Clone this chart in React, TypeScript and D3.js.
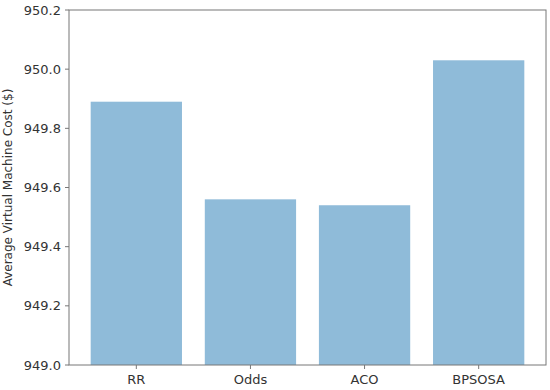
import React from "react";
import * as d3 from "d3";

const categories = ["RR", "Odds", "ACO", "BPSOSA"];
const costValues = [949.89, 949.56, 949.54, 950.03];
const yTicks = [949.0, 949.2, 949.4, 949.6, 949.8, 950.0, 950.2];

const W = 550;
const H = 390;
const margin = { top: 10, right: 4, bottom: 25, left: 69 };

const App = () => {
  const innerW = W - margin.left - margin.right;
  const innerH = H - margin.top - margin.bottom;

  // matplotlib-like: bars at 0..n-1, width 0.8, 5% padding
  const n = categories.length;
  const lo = -0.4 - 0.05 * (n - 1 + 0.8);
  const hi = n - 1 + 0.4 + 0.05 * (n - 1 + 0.8);
  const x = d3.scaleLinear().domain([lo, hi]).range([0, innerW]);
  const y = d3.scaleLinear().domain([949.0, 950.2]).range([innerH, 0]);

  const font = "'DejaVu Sans', sans-serif";
  const textColor = "#333";
  const axisColor = "#777";

  return (
    <svg
      width={W}
      height={H}
      style={{ position: "absolute", left: 0, top: 0 }}
      fontFamily={font}
    >
      <rect width={W} height={H} fill="white" />
      <g transform={`translate(${margin.left},${margin.top})`}>
        {costValues.map((v, i) => (
          <rect
            key={categories[i]}
            x={x(i - 0.4)}
            y={y(v)}
            width={x(i + 0.4) - x(i - 0.4)}
            height={innerH - y(v)}
            fill="#8fbbd9"
          />
        ))}
        <rect
          x={0}
          y={0}
          width={innerW}
          height={innerH}
          fill="none"
          stroke={axisColor}
          strokeWidth={1}
        />
        {yTicks.map((t) => (
          <g key={t} transform={`translate(0,${y(t)})`}>
            <line x1={-4} x2={0} stroke={axisColor} />
            <text
              x={-8}
              dy="0.35em"
              textAnchor="end"
              fontSize={13}
              fill={textColor}
            >
              {d3.format(".1f")(t)}
            </text>
          </g>
        ))}
        {categories.map((c, i) => (
          <g key={c} transform={`translate(${x(i)},${innerH})`}>
            <line y1={0} y2={4} stroke={axisColor} />
            <text y={19} textAnchor="middle" fontSize={13} fill={textColor}>
              {c}
            </text>
          </g>
        ))}
        <text
          transform={`translate(${-57},${innerH / 2}) rotate(-90)`}
          textAnchor="middle"
          fontSize={12}
          fill={textColor}
        >
          Average Virtual Machine Cost ($)
        </text>
      </g>
    </svg>
  );
};

export default App;
